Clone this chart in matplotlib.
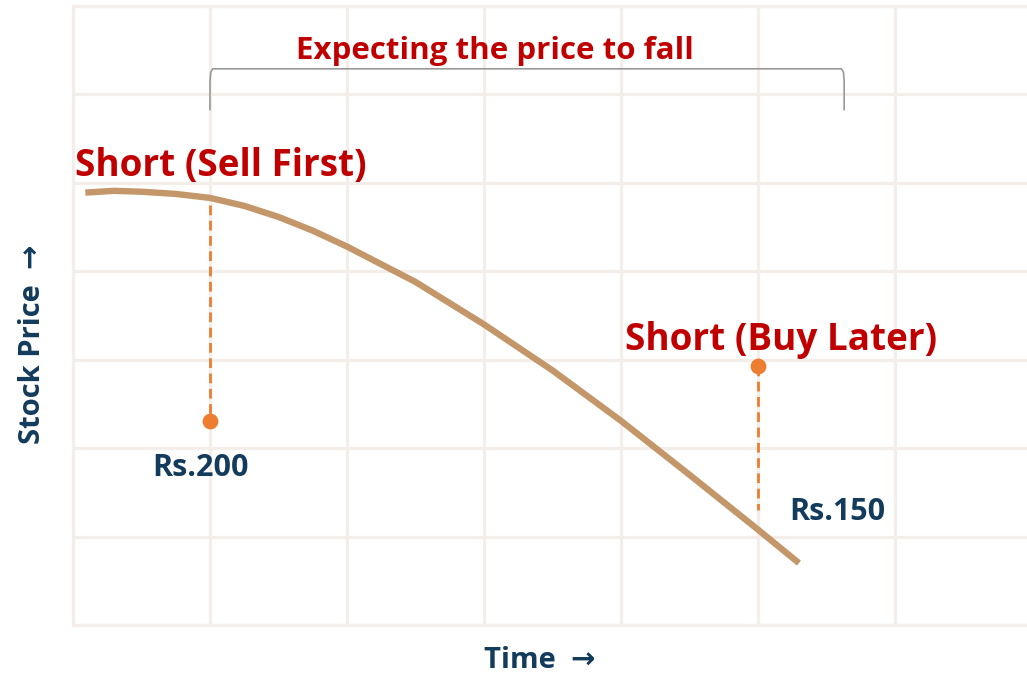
import matplotlib.pyplot as plt

# price curve (time units, price units)
curve_x = [0.09, 0.3, 0.5, 0.75, 1.0, 1.25, 1.5, 1.75, 2.0, 2.5, 3.0, 3.5, 4.0, 4.5, 5.0, 5.3]
curve_y = [4.89, 4.91, 4.90, 4.875, 4.83, 4.74, 4.615, 4.46, 4.28, 3.88, 3.40, 2.88, 2.31, 1.70, 1.08, 0.70]

# entry / exit markers
sell_x, sell_y = 1.0, 2.31
buy_x, buy_y = 5.0, 2.93
sell_curve_y = 4.75
buy_low_y = 1.30

labels_price = ['Rs.200', 'Rs.150']

red = '#C00000'
navy = '#123B5C'
orange = '#ED7D31'
tan = '#C4976A'
gridc = '#F3EEE9'

plt.rcParams['font.family'] = ['Open Sans', 'DejaVu Sans']
plt.rcParams['font.weight'] = 'bold'

fig = plt.figure(figsize=(10.27, 6.77), dpi=100)
ax = fig.add_axes([0.0711, 0.0768, 0.9289, 0.9143])
ax.set_xlim(0, 6.965)
ax.set_ylim(0, 7)
ax.set_xticks(range(0, 7))
ax.set_yticks(range(0, 8))
ax.tick_params(length=0, labelbottom=False, labelleft=False)
ax.grid(True, color=gridc, linewidth=2.3)
ax.set_axisbelow(True)
for s in ['left', 'bottom', 'top']:
    ax.spines[s].set_color(gridc)
    ax.spines[s].set_linewidth(2.3)
ax.spines['right'].set_visible(False)

ax.plot(curve_x, curve_y, color=tan, linewidth=4.6, solid_capstyle='butt',
        solid_joinstyle='round', zorder=3)

dash = (0, (3.5, 2))
ax.plot([sell_x, sell_x], [sell_curve_y, sell_y], color=orange, linestyle=dash, linewidth=2, zorder=2)
ax.plot([buy_x, buy_x], [buy_y, buy_low_y], color=orange, linestyle=dash, linewidth=2, zorder=2)
ax.scatter([sell_x, buy_x], [sell_y, buy_y], s=130, color=orange, zorder=4, linewidths=0)

# bracket
bx = [1.0, 1.0, 1.005, 1.02, 5.61, 5.625, 5.63, 5.63]
by = [5.83, 6.15, 6.25, 6.29, 6.29, 6.25, 6.15, 5.83]
ax.plot(bx, by, color='#999999', linewidth=1.2, zorder=3)

ax.text(3.08, 6.40, 'Expecting the price to fall', color=red, fontsize=22.5,
        ha='center', va='baseline')
ax.text(0.015, 5.08, 'Short (Sell First)', color=red, fontsize=26.6, va='baseline')
ax.text(4.03, 3.11, 'Short (Buy Later)', color=red, fontsize=26.6, va='baseline')

ax.text(0.93, 1.78, labels_price[0], color=navy, fontsize=22, ha='center', va='center')
ax.text(5.58, 1.28, labels_price[1], color=navy, fontsize=22, ha='center', va='center')

fig.text(33 / 1027, 1 - 344 / 677, 'Stock Price  \u2192', color=navy, fontsize=21,
         rotation=90, ha='center', va='center')
fig.text(540 / 1027, 1 - 660 / 677, 'Time  \u2192', color=navy, fontsize=21,
         ha='center', va='center')

fig.savefig('out.png', dpi=100)
